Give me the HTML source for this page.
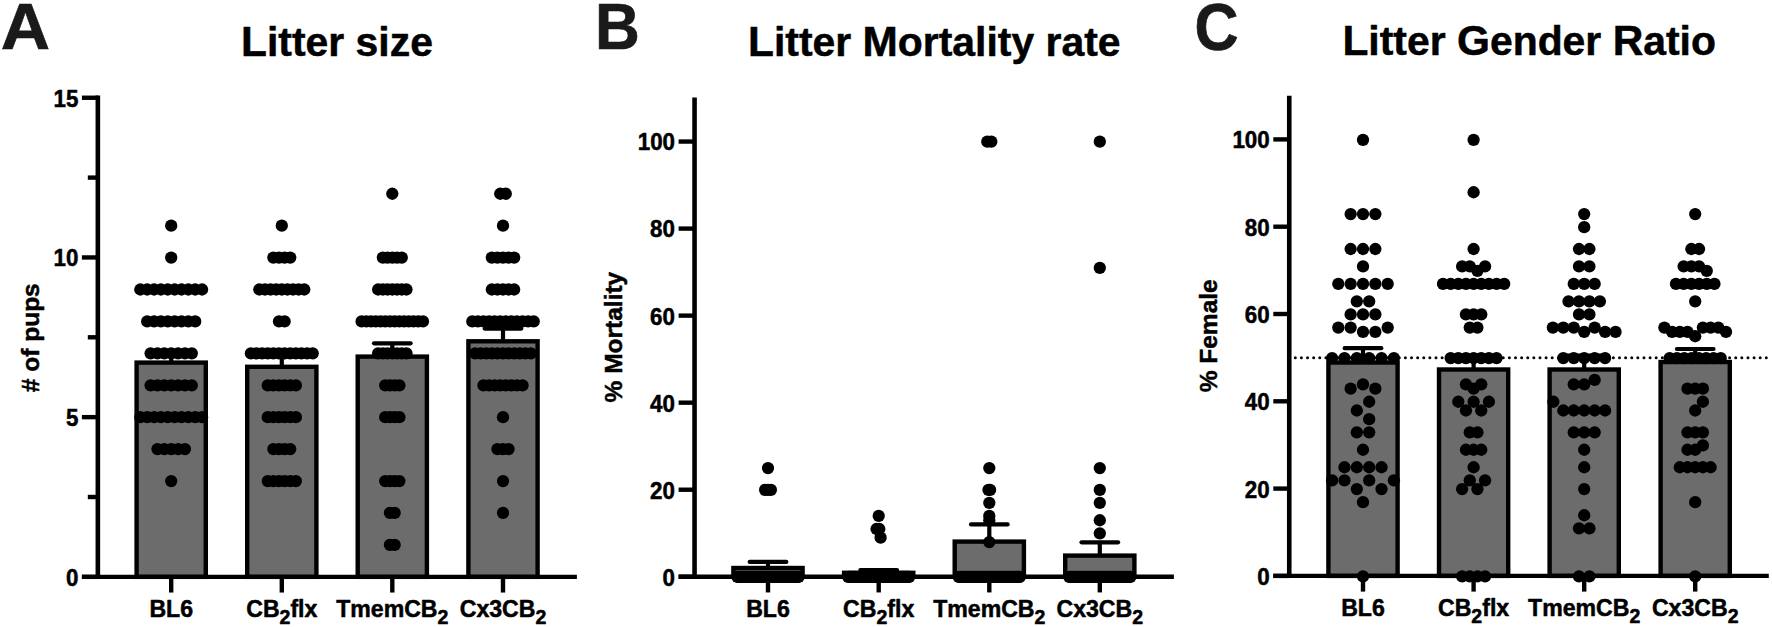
<!DOCTYPE html>
<html><head><meta charset="utf-8"><title>Litter figure</title>
<style>html,body{margin:0;padding:0;background:#fff}svg{display:block}</style></head>
<body>
<svg width="1772" height="627" viewBox="0 0 1772 627">
<rect width="1772" height="627" fill="#fff"/>
<rect x="136.60" y="362.60" width="69.20" height="214.25" fill="#6c6c6c" stroke="#000" stroke-width="4.4"/>
<line x1="171.20" y1="352.10" x2="171.20" y2="362.60" stroke="#000" stroke-width="4.2" />
<line x1="152.90" y1="352.10" x2="189.50" y2="352.10" stroke="#000" stroke-width="4.2" stroke-linecap="round"/>
<rect x="247.20" y="366.80" width="69.20" height="210.05" fill="#6c6c6c" stroke="#000" stroke-width="4.4"/>
<line x1="281.80" y1="355.30" x2="281.80" y2="366.80" stroke="#000" stroke-width="4.2" />
<line x1="263.50" y1="355.30" x2="300.10" y2="355.30" stroke="#000" stroke-width="4.2" stroke-linecap="round"/>
<rect x="357.70" y="356.60" width="69.20" height="220.25" fill="#6c6c6c" stroke="#000" stroke-width="4.4"/>
<line x1="392.30" y1="343.30" x2="392.30" y2="356.60" stroke="#000" stroke-width="4.2" />
<line x1="374.00" y1="343.30" x2="410.60" y2="343.30" stroke="#000" stroke-width="4.2" stroke-linecap="round"/>
<rect x="468.40" y="341.30" width="69.20" height="235.55" fill="#6c6c6c" stroke="#000" stroke-width="4.4"/>
<line x1="503.00" y1="328.60" x2="503.00" y2="341.30" stroke="#000" stroke-width="4.2" />
<line x1="484.70" y1="328.60" x2="521.30" y2="328.60" stroke="#000" stroke-width="4.2" stroke-linecap="round"/>
<line x1="97.85" y1="95.50" x2="97.85" y2="579.05" stroke="#000" stroke-width="4.6" />
<line x1="81.90" y1="576.85" x2="576.90" y2="576.85" stroke="#000" stroke-width="4.4" />
<line x1="81.90" y1="576.85" x2="98.00" y2="576.85" stroke="#000" stroke-width="4.4" />
<text transform="translate(78.40,585.75) scale(0.96,1)" font-size="23.3" text-anchor="end" fill="#000" font-family="Liberation Sans, Arial, Helvetica, sans-serif" font-weight="bold"  stroke="#000" stroke-width="0.5" stroke-linejoin="round">0</text>
<line x1="81.90" y1="417.15" x2="98.00" y2="417.15" stroke="#000" stroke-width="4.4" />
<text transform="translate(78.40,426.05) scale(0.96,1)" font-size="23.3" text-anchor="end" fill="#000" font-family="Liberation Sans, Arial, Helvetica, sans-serif" font-weight="bold"  stroke="#000" stroke-width="0.5" stroke-linejoin="round">5</text>
<line x1="81.90" y1="257.45" x2="98.00" y2="257.45" stroke="#000" stroke-width="4.4" />
<text transform="translate(78.40,266.35) scale(0.96,1)" font-size="23.3" text-anchor="end" fill="#000" font-family="Liberation Sans, Arial, Helvetica, sans-serif" font-weight="bold"  stroke="#000" stroke-width="0.5" stroke-linejoin="round">10</text>
<line x1="81.90" y1="97.75" x2="98.00" y2="97.75" stroke="#000" stroke-width="4.4" />
<text transform="translate(78.40,106.65) scale(0.96,1)" font-size="23.3" text-anchor="end" fill="#000" font-family="Liberation Sans, Arial, Helvetica, sans-serif" font-weight="bold"  stroke="#000" stroke-width="0.5" stroke-linejoin="round">15</text>
<line x1="87.80" y1="497.00" x2="98.00" y2="497.00" stroke="#000" stroke-width="4.4" />
<line x1="87.80" y1="337.30" x2="98.00" y2="337.30" stroke="#000" stroke-width="4.4" />
<line x1="87.80" y1="177.60" x2="98.00" y2="177.60" stroke="#000" stroke-width="4.4" />
<line x1="171.20" y1="576.85" x2="171.20" y2="592.55" stroke="#000" stroke-width="4.4" />
<line x1="281.80" y1="576.85" x2="281.80" y2="592.55" stroke="#000" stroke-width="4.4" />
<line x1="392.30" y1="576.85" x2="392.30" y2="592.55" stroke="#000" stroke-width="4.4" />
<line x1="503.00" y1="576.85" x2="503.00" y2="592.55" stroke="#000" stroke-width="4.4" />
<text x="171.20" y="616.90" font-size="23.1" text-anchor="middle" fill="#000" font-family="Liberation Sans, Arial, Helvetica, sans-serif" font-weight="bold"  stroke="#000" stroke-width="0.5" stroke-linejoin="round">BL6</text>
<text x="281.80" y="616.90" font-size="23.1" text-anchor="middle" fill="#000" font-family="Liberation Sans, Arial, Helvetica, sans-serif" font-weight="bold"  stroke="#000" stroke-width="0.5" stroke-linejoin="round">CB<tspan font-size="19.5" dy="7.3">2</tspan><tspan dy="-7.3">flx</tspan></text>
<text x="392.30" y="616.90" font-size="23.1" text-anchor="middle" fill="#000" font-family="Liberation Sans, Arial, Helvetica, sans-serif" font-weight="bold"  stroke="#000" stroke-width="0.5" stroke-linejoin="round">TmemCB<tspan font-size="19.5" dy="7.3">2</tspan></text>
<text x="503.00" y="616.90" font-size="23.1" text-anchor="middle" fill="#000" font-family="Liberation Sans, Arial, Helvetica, sans-serif" font-weight="bold"  stroke="#000" stroke-width="0.5" stroke-linejoin="round">Cx3CB<tspan font-size="19.5" dy="7.3">2</tspan></text>
<text x="337.00" y="56.30" font-size="40.9" text-anchor="middle" fill="#000" font-family="Liberation Sans, Arial, Helvetica, sans-serif" font-weight="bold"  stroke="#000" stroke-width="0.5" stroke-linejoin="round"><tspan font-size="42.4">L</tspan>itter size</text>
<text transform="translate(0.80,49.20) scale(1.04,1)" font-size="65.7" text-anchor="start" fill="#1a1a1a" font-family="Liberation Sans, Arial, Helvetica, sans-serif" font-weight="bold"  stroke="#1a1a1a" stroke-width="0.7" stroke-linejoin="round">A</text>
<text transform="translate(39.00,337.70) rotate(-90)" font-size="24.5" text-anchor="middle" fill="#000" stroke="#000" stroke-width="0.5" font-family="Liberation Sans, Arial, Helvetica, sans-serif" font-weight="bold"># of pups</text>
<g fill="#000">
<circle cx="171.20" cy="225.68" r="6.15"/>
<circle cx="171.20" cy="257.60" r="6.15"/>
<circle cx="140.33" cy="289.52" r="6.15"/>
<circle cx="147.19" cy="289.52" r="6.15"/>
<circle cx="154.05" cy="289.52" r="6.15"/>
<circle cx="160.91" cy="289.52" r="6.15"/>
<circle cx="167.77" cy="289.52" r="6.15"/>
<circle cx="174.63" cy="289.52" r="6.15"/>
<circle cx="181.49" cy="289.52" r="6.15"/>
<circle cx="188.35" cy="289.52" r="6.15"/>
<circle cx="195.21" cy="289.52" r="6.15"/>
<circle cx="202.07" cy="289.52" r="6.15"/>
<circle cx="147.19" cy="321.44" r="6.15"/>
<circle cx="154.05" cy="321.44" r="6.15"/>
<circle cx="160.91" cy="321.44" r="6.15"/>
<circle cx="167.77" cy="321.44" r="6.15"/>
<circle cx="174.63" cy="321.44" r="6.15"/>
<circle cx="181.49" cy="321.44" r="6.15"/>
<circle cx="188.35" cy="321.44" r="6.15"/>
<circle cx="195.21" cy="321.44" r="6.15"/>
<circle cx="150.62" cy="353.36" r="6.15"/>
<circle cx="157.48" cy="353.36" r="6.15"/>
<circle cx="164.34" cy="353.36" r="6.15"/>
<circle cx="171.20" cy="353.36" r="6.15"/>
<circle cx="178.06" cy="353.36" r="6.15"/>
<circle cx="184.92" cy="353.36" r="6.15"/>
<circle cx="191.78" cy="353.36" r="6.15"/>
<circle cx="150.62" cy="385.28" r="6.15"/>
<circle cx="157.48" cy="385.28" r="6.15"/>
<circle cx="164.34" cy="385.28" r="6.15"/>
<circle cx="171.20" cy="385.28" r="6.15"/>
<circle cx="178.06" cy="385.28" r="6.15"/>
<circle cx="184.92" cy="385.28" r="6.15"/>
<circle cx="191.78" cy="385.28" r="6.15"/>
<circle cx="140.33" cy="417.20" r="6.15"/>
<circle cx="147.19" cy="417.20" r="6.15"/>
<circle cx="154.05" cy="417.20" r="6.15"/>
<circle cx="160.91" cy="417.20" r="6.15"/>
<circle cx="167.77" cy="417.20" r="6.15"/>
<circle cx="174.63" cy="417.20" r="6.15"/>
<circle cx="181.49" cy="417.20" r="6.15"/>
<circle cx="188.35" cy="417.20" r="6.15"/>
<circle cx="195.21" cy="417.20" r="6.15"/>
<circle cx="202.07" cy="417.20" r="6.15"/>
<circle cx="157.48" cy="449.12" r="6.15"/>
<circle cx="164.34" cy="449.12" r="6.15"/>
<circle cx="171.20" cy="449.12" r="6.15"/>
<circle cx="178.06" cy="449.12" r="6.15"/>
<circle cx="184.92" cy="449.12" r="6.15"/>
<circle cx="171.20" cy="481.04" r="6.15"/>
<circle cx="281.80" cy="225.68" r="6.15"/>
<circle cx="273.37" cy="257.60" r="6.15"/>
<circle cx="278.99" cy="257.60" r="6.15"/>
<circle cx="284.61" cy="257.60" r="6.15"/>
<circle cx="290.23" cy="257.60" r="6.15"/>
<circle cx="259.32" cy="289.52" r="6.15"/>
<circle cx="264.94" cy="289.52" r="6.15"/>
<circle cx="270.56" cy="289.52" r="6.15"/>
<circle cx="276.18" cy="289.52" r="6.15"/>
<circle cx="281.80" cy="289.52" r="6.15"/>
<circle cx="287.42" cy="289.52" r="6.15"/>
<circle cx="293.04" cy="289.52" r="6.15"/>
<circle cx="298.66" cy="289.52" r="6.15"/>
<circle cx="304.28" cy="289.52" r="6.15"/>
<circle cx="278.99" cy="321.44" r="6.15"/>
<circle cx="284.61" cy="321.44" r="6.15"/>
<circle cx="250.89" cy="353.36" r="6.15"/>
<circle cx="256.51" cy="353.36" r="6.15"/>
<circle cx="262.13" cy="353.36" r="6.15"/>
<circle cx="267.75" cy="353.36" r="6.15"/>
<circle cx="273.37" cy="353.36" r="6.15"/>
<circle cx="278.99" cy="353.36" r="6.15"/>
<circle cx="284.61" cy="353.36" r="6.15"/>
<circle cx="290.23" cy="353.36" r="6.15"/>
<circle cx="295.85" cy="353.36" r="6.15"/>
<circle cx="301.47" cy="353.36" r="6.15"/>
<circle cx="307.09" cy="353.36" r="6.15"/>
<circle cx="312.71" cy="353.36" r="6.15"/>
<circle cx="267.75" cy="385.28" r="6.15"/>
<circle cx="273.37" cy="385.28" r="6.15"/>
<circle cx="278.99" cy="385.28" r="6.15"/>
<circle cx="284.61" cy="385.28" r="6.15"/>
<circle cx="290.23" cy="385.28" r="6.15"/>
<circle cx="295.85" cy="385.28" r="6.15"/>
<circle cx="267.75" cy="417.20" r="6.15"/>
<circle cx="273.37" cy="417.20" r="6.15"/>
<circle cx="278.99" cy="417.20" r="6.15"/>
<circle cx="284.61" cy="417.20" r="6.15"/>
<circle cx="290.23" cy="417.20" r="6.15"/>
<circle cx="295.85" cy="417.20" r="6.15"/>
<circle cx="273.37" cy="449.12" r="6.15"/>
<circle cx="278.99" cy="449.12" r="6.15"/>
<circle cx="284.61" cy="449.12" r="6.15"/>
<circle cx="290.23" cy="449.12" r="6.15"/>
<circle cx="267.75" cy="481.04" r="6.15"/>
<circle cx="273.37" cy="481.04" r="6.15"/>
<circle cx="278.99" cy="481.04" r="6.15"/>
<circle cx="284.61" cy="481.04" r="6.15"/>
<circle cx="290.23" cy="481.04" r="6.15"/>
<circle cx="295.85" cy="481.04" r="6.15"/>
<circle cx="392.30" cy="193.76" r="6.15"/>
<circle cx="382.86" cy="257.60" r="6.15"/>
<circle cx="387.58" cy="257.60" r="6.15"/>
<circle cx="392.30" cy="257.60" r="6.15"/>
<circle cx="397.02" cy="257.60" r="6.15"/>
<circle cx="401.74" cy="257.60" r="6.15"/>
<circle cx="378.14" cy="289.52" r="6.15"/>
<circle cx="382.86" cy="289.52" r="6.15"/>
<circle cx="387.58" cy="289.52" r="6.15"/>
<circle cx="392.30" cy="289.52" r="6.15"/>
<circle cx="397.02" cy="289.52" r="6.15"/>
<circle cx="401.74" cy="289.52" r="6.15"/>
<circle cx="406.46" cy="289.52" r="6.15"/>
<circle cx="361.62" cy="321.44" r="6.15"/>
<circle cx="366.34" cy="321.44" r="6.15"/>
<circle cx="371.06" cy="321.44" r="6.15"/>
<circle cx="375.78" cy="321.44" r="6.15"/>
<circle cx="380.50" cy="321.44" r="6.15"/>
<circle cx="385.22" cy="321.44" r="6.15"/>
<circle cx="389.94" cy="321.44" r="6.15"/>
<circle cx="394.66" cy="321.44" r="6.15"/>
<circle cx="399.38" cy="321.44" r="6.15"/>
<circle cx="404.10" cy="321.44" r="6.15"/>
<circle cx="408.82" cy="321.44" r="6.15"/>
<circle cx="413.54" cy="321.44" r="6.15"/>
<circle cx="418.26" cy="321.44" r="6.15"/>
<circle cx="422.98" cy="321.44" r="6.15"/>
<circle cx="378.14" cy="353.36" r="6.15"/>
<circle cx="382.86" cy="353.36" r="6.15"/>
<circle cx="387.58" cy="353.36" r="6.15"/>
<circle cx="392.30" cy="353.36" r="6.15"/>
<circle cx="397.02" cy="353.36" r="6.15"/>
<circle cx="401.74" cy="353.36" r="6.15"/>
<circle cx="406.46" cy="353.36" r="6.15"/>
<circle cx="385.22" cy="385.28" r="6.15"/>
<circle cx="389.94" cy="385.28" r="6.15"/>
<circle cx="394.66" cy="385.28" r="6.15"/>
<circle cx="399.38" cy="385.28" r="6.15"/>
<circle cx="385.22" cy="417.20" r="6.15"/>
<circle cx="389.94" cy="417.20" r="6.15"/>
<circle cx="394.66" cy="417.20" r="6.15"/>
<circle cx="399.38" cy="417.20" r="6.15"/>
<circle cx="385.22" cy="481.04" r="6.15"/>
<circle cx="389.94" cy="481.04" r="6.15"/>
<circle cx="394.66" cy="481.04" r="6.15"/>
<circle cx="399.38" cy="481.04" r="6.15"/>
<circle cx="389.94" cy="512.96" r="6.15"/>
<circle cx="394.66" cy="512.96" r="6.15"/>
<circle cx="389.94" cy="544.88" r="6.15"/>
<circle cx="394.66" cy="544.88" r="6.15"/>
<circle cx="500.21" cy="193.76" r="6.15"/>
<circle cx="505.79" cy="193.76" r="6.15"/>
<circle cx="503.00" cy="225.68" r="6.15"/>
<circle cx="491.84" cy="257.60" r="6.15"/>
<circle cx="497.42" cy="257.60" r="6.15"/>
<circle cx="503.00" cy="257.60" r="6.15"/>
<circle cx="508.58" cy="257.60" r="6.15"/>
<circle cx="514.16" cy="257.60" r="6.15"/>
<circle cx="491.84" cy="289.52" r="6.15"/>
<circle cx="497.42" cy="289.52" r="6.15"/>
<circle cx="503.00" cy="289.52" r="6.15"/>
<circle cx="508.58" cy="289.52" r="6.15"/>
<circle cx="514.16" cy="289.52" r="6.15"/>
<circle cx="472.31" cy="321.44" r="6.15"/>
<circle cx="477.89" cy="321.44" r="6.15"/>
<circle cx="483.47" cy="321.44" r="6.15"/>
<circle cx="489.05" cy="321.44" r="6.15"/>
<circle cx="494.63" cy="321.44" r="6.15"/>
<circle cx="500.21" cy="321.44" r="6.15"/>
<circle cx="505.79" cy="321.44" r="6.15"/>
<circle cx="511.37" cy="321.44" r="6.15"/>
<circle cx="516.95" cy="321.44" r="6.15"/>
<circle cx="522.53" cy="321.44" r="6.15"/>
<circle cx="528.11" cy="321.44" r="6.15"/>
<circle cx="533.69" cy="321.44" r="6.15"/>
<circle cx="475.10" cy="353.36" r="6.15"/>
<circle cx="480.68" cy="353.36" r="6.15"/>
<circle cx="486.26" cy="353.36" r="6.15"/>
<circle cx="491.84" cy="353.36" r="6.15"/>
<circle cx="497.42" cy="353.36" r="6.15"/>
<circle cx="503.00" cy="353.36" r="6.15"/>
<circle cx="508.58" cy="353.36" r="6.15"/>
<circle cx="514.16" cy="353.36" r="6.15"/>
<circle cx="519.74" cy="353.36" r="6.15"/>
<circle cx="525.32" cy="353.36" r="6.15"/>
<circle cx="530.90" cy="353.36" r="6.15"/>
<circle cx="483.47" cy="385.28" r="6.15"/>
<circle cx="489.05" cy="385.28" r="6.15"/>
<circle cx="494.63" cy="385.28" r="6.15"/>
<circle cx="500.21" cy="385.28" r="6.15"/>
<circle cx="505.79" cy="385.28" r="6.15"/>
<circle cx="511.37" cy="385.28" r="6.15"/>
<circle cx="516.95" cy="385.28" r="6.15"/>
<circle cx="522.53" cy="385.28" r="6.15"/>
<circle cx="503.00" cy="417.20" r="6.15"/>
<circle cx="497.42" cy="449.12" r="6.15"/>
<circle cx="503.00" cy="449.12" r="6.15"/>
<circle cx="508.58" cy="449.12" r="6.15"/>
<circle cx="503.00" cy="481.04" r="6.15"/>
<circle cx="503.00" cy="512.96" r="6.15"/>
</g>
<rect x="733.40" y="568.00" width="69.20" height="8.75" fill="#6c6c6c" stroke="#000" stroke-width="4.4"/>
<line x1="768.00" y1="561.90" x2="768.00" y2="568.00" stroke="#000" stroke-width="4.2" />
<line x1="749.70" y1="561.90" x2="786.30" y2="561.90" stroke="#000" stroke-width="4.2" stroke-linecap="round"/>
<rect x="844.10" y="572.80" width="69.20" height="3.95" fill="#6c6c6c" stroke="#000" stroke-width="4.4"/>
<line x1="878.70" y1="570.00" x2="878.70" y2="572.80" stroke="#000" stroke-width="4.2" />
<line x1="860.40" y1="570.00" x2="897.00" y2="570.00" stroke="#000" stroke-width="4.2" stroke-linecap="round"/>
<rect x="954.70" y="541.60" width="69.20" height="35.15" fill="#6c6c6c" stroke="#000" stroke-width="4.4"/>
<line x1="989.30" y1="524.40" x2="989.30" y2="541.60" stroke="#000" stroke-width="4.2" />
<line x1="971.00" y1="524.40" x2="1007.60" y2="524.40" stroke="#000" stroke-width="4.2" stroke-linecap="round"/>
<rect x="1065.20" y="555.60" width="69.20" height="21.15" fill="#6c6c6c" stroke="#000" stroke-width="4.4"/>
<line x1="1099.80" y1="542.30" x2="1099.80" y2="555.60" stroke="#000" stroke-width="4.2" />
<line x1="1081.50" y1="542.30" x2="1118.10" y2="542.30" stroke="#000" stroke-width="4.2" stroke-linecap="round"/>
<line x1="694.55" y1="97.60" x2="694.55" y2="578.95" stroke="#000" stroke-width="4.6" />
<line x1="678.60" y1="576.75" x2="1173.90" y2="576.75" stroke="#000" stroke-width="4.4" />
<line x1="678.60" y1="576.75" x2="694.70" y2="576.75" stroke="#000" stroke-width="4.4" />
<text transform="translate(675.00,585.65) scale(0.96,1)" font-size="23.3" text-anchor="end" fill="#000" font-family="Liberation Sans, Arial, Helvetica, sans-serif" font-weight="bold"  stroke="#000" stroke-width="0.5" stroke-linejoin="round">0</text>
<line x1="678.60" y1="489.71" x2="694.70" y2="489.71" stroke="#000" stroke-width="4.4" />
<text transform="translate(675.00,498.61) scale(0.96,1)" font-size="23.3" text-anchor="end" fill="#000" font-family="Liberation Sans, Arial, Helvetica, sans-serif" font-weight="bold"  stroke="#000" stroke-width="0.5" stroke-linejoin="round">20</text>
<line x1="678.60" y1="402.67" x2="694.70" y2="402.67" stroke="#000" stroke-width="4.4" />
<text transform="translate(675.00,411.57) scale(0.96,1)" font-size="23.3" text-anchor="end" fill="#000" font-family="Liberation Sans, Arial, Helvetica, sans-serif" font-weight="bold"  stroke="#000" stroke-width="0.5" stroke-linejoin="round">40</text>
<line x1="678.60" y1="315.63" x2="694.70" y2="315.63" stroke="#000" stroke-width="4.4" />
<text transform="translate(675.00,324.53) scale(0.96,1)" font-size="23.3" text-anchor="end" fill="#000" font-family="Liberation Sans, Arial, Helvetica, sans-serif" font-weight="bold"  stroke="#000" stroke-width="0.5" stroke-linejoin="round">60</text>
<line x1="678.60" y1="228.59" x2="694.70" y2="228.59" stroke="#000" stroke-width="4.4" />
<text transform="translate(675.00,237.49) scale(0.96,1)" font-size="23.3" text-anchor="end" fill="#000" font-family="Liberation Sans, Arial, Helvetica, sans-serif" font-weight="bold"  stroke="#000" stroke-width="0.5" stroke-linejoin="round">80</text>
<line x1="678.60" y1="141.55" x2="694.70" y2="141.55" stroke="#000" stroke-width="4.4" />
<text transform="translate(675.00,150.45) scale(0.96,1)" font-size="23.3" text-anchor="end" fill="#000" font-family="Liberation Sans, Arial, Helvetica, sans-serif" font-weight="bold"  stroke="#000" stroke-width="0.5" stroke-linejoin="round">100</text>
<line x1="768.00" y1="576.75" x2="768.00" y2="592.45" stroke="#000" stroke-width="4.4" />
<line x1="878.70" y1="576.75" x2="878.70" y2="592.45" stroke="#000" stroke-width="4.4" />
<line x1="989.30" y1="576.75" x2="989.30" y2="592.45" stroke="#000" stroke-width="4.4" />
<line x1="1099.80" y1="576.75" x2="1099.80" y2="592.45" stroke="#000" stroke-width="4.4" />
<text x="768.00" y="616.80" font-size="23.1" text-anchor="middle" fill="#000" font-family="Liberation Sans, Arial, Helvetica, sans-serif" font-weight="bold"  stroke="#000" stroke-width="0.5" stroke-linejoin="round">BL6</text>
<text x="878.70" y="616.80" font-size="23.1" text-anchor="middle" fill="#000" font-family="Liberation Sans, Arial, Helvetica, sans-serif" font-weight="bold"  stroke="#000" stroke-width="0.5" stroke-linejoin="round">CB<tspan font-size="19.5" dy="7.3">2</tspan><tspan dy="-7.3">flx</tspan></text>
<text x="989.30" y="616.80" font-size="23.1" text-anchor="middle" fill="#000" font-family="Liberation Sans, Arial, Helvetica, sans-serif" font-weight="bold"  stroke="#000" stroke-width="0.5" stroke-linejoin="round">TmemCB<tspan font-size="19.5" dy="7.3">2</tspan></text>
<text x="1099.80" y="616.80" font-size="23.1" text-anchor="middle" fill="#000" font-family="Liberation Sans, Arial, Helvetica, sans-serif" font-weight="bold"  stroke="#000" stroke-width="0.5" stroke-linejoin="round">Cx3CB<tspan font-size="19.5" dy="7.3">2</tspan></text>
<text x="934.30" y="55.80" font-size="40.9" text-anchor="middle" fill="#000" font-family="Liberation Sans, Arial, Helvetica, sans-serif" font-weight="bold"  stroke="#000" stroke-width="0.5" stroke-linejoin="round"><tspan font-size="42.4">L</tspan>itter <tspan font-size="42.4">M</tspan>ortality rate</text>
<text transform="translate(595.10,49.20) scale(0.945,1)" font-size="65.7" text-anchor="start" fill="#1a1a1a" font-family="Liberation Sans, Arial, Helvetica, sans-serif" font-weight="bold"  stroke="#1a1a1a" stroke-width="0.7" stroke-linejoin="round">B</text>
<text transform="translate(622.00,337.10) rotate(-90)" font-size="24.5" text-anchor="middle" fill="#000" stroke="#000" stroke-width="0.5" font-family="Liberation Sans, Arial, Helvetica, sans-serif" font-weight="bold">% Mortality</text>
<g fill="#000">
<circle cx="737.40" cy="576.85" r="6.15"/>
<circle cx="738.93" cy="576.85" r="6.15"/>
<circle cx="740.46" cy="576.85" r="6.15"/>
<circle cx="741.99" cy="576.85" r="6.15"/>
<circle cx="743.52" cy="576.85" r="6.15"/>
<circle cx="745.05" cy="576.85" r="6.15"/>
<circle cx="746.58" cy="576.85" r="6.15"/>
<circle cx="748.11" cy="576.85" r="6.15"/>
<circle cx="749.64" cy="576.85" r="6.15"/>
<circle cx="751.17" cy="576.85" r="6.15"/>
<circle cx="752.70" cy="576.85" r="6.15"/>
<circle cx="754.23" cy="576.85" r="6.15"/>
<circle cx="755.76" cy="576.85" r="6.15"/>
<circle cx="757.29" cy="576.85" r="6.15"/>
<circle cx="758.82" cy="576.85" r="6.15"/>
<circle cx="760.35" cy="576.85" r="6.15"/>
<circle cx="761.88" cy="576.85" r="6.15"/>
<circle cx="763.41" cy="576.85" r="6.15"/>
<circle cx="764.94" cy="576.85" r="6.15"/>
<circle cx="766.47" cy="576.85" r="6.15"/>
<circle cx="768.00" cy="576.85" r="6.15"/>
<circle cx="769.53" cy="576.85" r="6.15"/>
<circle cx="771.06" cy="576.85" r="6.15"/>
<circle cx="772.59" cy="576.85" r="6.15"/>
<circle cx="774.12" cy="576.85" r="6.15"/>
<circle cx="775.65" cy="576.85" r="6.15"/>
<circle cx="777.18" cy="576.85" r="6.15"/>
<circle cx="778.71" cy="576.85" r="6.15"/>
<circle cx="780.24" cy="576.85" r="6.15"/>
<circle cx="781.77" cy="576.85" r="6.15"/>
<circle cx="783.30" cy="576.85" r="6.15"/>
<circle cx="784.83" cy="576.85" r="6.15"/>
<circle cx="786.36" cy="576.85" r="6.15"/>
<circle cx="787.89" cy="576.85" r="6.15"/>
<circle cx="789.42" cy="576.85" r="6.15"/>
<circle cx="790.95" cy="576.85" r="6.15"/>
<circle cx="792.48" cy="576.85" r="6.15"/>
<circle cx="794.01" cy="576.85" r="6.15"/>
<circle cx="795.54" cy="576.85" r="6.15"/>
<circle cx="797.07" cy="576.85" r="6.15"/>
<circle cx="798.60" cy="576.85" r="6.15"/>
<circle cx="848.20" cy="576.85" r="6.15"/>
<circle cx="849.73" cy="576.85" r="6.15"/>
<circle cx="851.25" cy="576.85" r="6.15"/>
<circle cx="852.78" cy="576.85" r="6.15"/>
<circle cx="854.30" cy="576.85" r="6.15"/>
<circle cx="855.83" cy="576.85" r="6.15"/>
<circle cx="857.35" cy="576.85" r="6.15"/>
<circle cx="858.88" cy="576.85" r="6.15"/>
<circle cx="860.40" cy="576.85" r="6.15"/>
<circle cx="861.93" cy="576.85" r="6.15"/>
<circle cx="863.45" cy="576.85" r="6.15"/>
<circle cx="864.98" cy="576.85" r="6.15"/>
<circle cx="866.50" cy="576.85" r="6.15"/>
<circle cx="868.03" cy="576.85" r="6.15"/>
<circle cx="869.55" cy="576.85" r="6.15"/>
<circle cx="871.08" cy="576.85" r="6.15"/>
<circle cx="872.60" cy="576.85" r="6.15"/>
<circle cx="874.12" cy="576.85" r="6.15"/>
<circle cx="875.65" cy="576.85" r="6.15"/>
<circle cx="877.18" cy="576.85" r="6.15"/>
<circle cx="878.70" cy="576.85" r="6.15"/>
<circle cx="880.23" cy="576.85" r="6.15"/>
<circle cx="881.75" cy="576.85" r="6.15"/>
<circle cx="883.28" cy="576.85" r="6.15"/>
<circle cx="884.80" cy="576.85" r="6.15"/>
<circle cx="886.33" cy="576.85" r="6.15"/>
<circle cx="887.85" cy="576.85" r="6.15"/>
<circle cx="889.38" cy="576.85" r="6.15"/>
<circle cx="890.90" cy="576.85" r="6.15"/>
<circle cx="892.43" cy="576.85" r="6.15"/>
<circle cx="893.95" cy="576.85" r="6.15"/>
<circle cx="895.48" cy="576.85" r="6.15"/>
<circle cx="897.00" cy="576.85" r="6.15"/>
<circle cx="898.53" cy="576.85" r="6.15"/>
<circle cx="900.05" cy="576.85" r="6.15"/>
<circle cx="901.58" cy="576.85" r="6.15"/>
<circle cx="903.10" cy="576.85" r="6.15"/>
<circle cx="904.62" cy="576.85" r="6.15"/>
<circle cx="906.15" cy="576.85" r="6.15"/>
<circle cx="907.68" cy="576.85" r="6.15"/>
<circle cx="909.20" cy="576.85" r="6.15"/>
<circle cx="958.70" cy="576.85" r="6.15"/>
<circle cx="960.23" cy="576.85" r="6.15"/>
<circle cx="961.76" cy="576.85" r="6.15"/>
<circle cx="963.29" cy="576.85" r="6.15"/>
<circle cx="964.82" cy="576.85" r="6.15"/>
<circle cx="966.35" cy="576.85" r="6.15"/>
<circle cx="967.88" cy="576.85" r="6.15"/>
<circle cx="969.41" cy="576.85" r="6.15"/>
<circle cx="970.94" cy="576.85" r="6.15"/>
<circle cx="972.47" cy="576.85" r="6.15"/>
<circle cx="974.00" cy="576.85" r="6.15"/>
<circle cx="975.53" cy="576.85" r="6.15"/>
<circle cx="977.06" cy="576.85" r="6.15"/>
<circle cx="978.59" cy="576.85" r="6.15"/>
<circle cx="980.12" cy="576.85" r="6.15"/>
<circle cx="981.65" cy="576.85" r="6.15"/>
<circle cx="983.18" cy="576.85" r="6.15"/>
<circle cx="984.71" cy="576.85" r="6.15"/>
<circle cx="986.24" cy="576.85" r="6.15"/>
<circle cx="987.77" cy="576.85" r="6.15"/>
<circle cx="989.30" cy="576.85" r="6.15"/>
<circle cx="990.83" cy="576.85" r="6.15"/>
<circle cx="992.36" cy="576.85" r="6.15"/>
<circle cx="993.89" cy="576.85" r="6.15"/>
<circle cx="995.42" cy="576.85" r="6.15"/>
<circle cx="996.95" cy="576.85" r="6.15"/>
<circle cx="998.48" cy="576.85" r="6.15"/>
<circle cx="1000.01" cy="576.85" r="6.15"/>
<circle cx="1001.54" cy="576.85" r="6.15"/>
<circle cx="1003.07" cy="576.85" r="6.15"/>
<circle cx="1004.60" cy="576.85" r="6.15"/>
<circle cx="1006.13" cy="576.85" r="6.15"/>
<circle cx="1007.66" cy="576.85" r="6.15"/>
<circle cx="1009.19" cy="576.85" r="6.15"/>
<circle cx="1010.72" cy="576.85" r="6.15"/>
<circle cx="1012.25" cy="576.85" r="6.15"/>
<circle cx="1013.78" cy="576.85" r="6.15"/>
<circle cx="1015.31" cy="576.85" r="6.15"/>
<circle cx="1016.84" cy="576.85" r="6.15"/>
<circle cx="1018.37" cy="576.85" r="6.15"/>
<circle cx="1019.90" cy="576.85" r="6.15"/>
<circle cx="1069.20" cy="576.85" r="6.15"/>
<circle cx="1070.73" cy="576.85" r="6.15"/>
<circle cx="1072.26" cy="576.85" r="6.15"/>
<circle cx="1073.79" cy="576.85" r="6.15"/>
<circle cx="1075.32" cy="576.85" r="6.15"/>
<circle cx="1076.85" cy="576.85" r="6.15"/>
<circle cx="1078.38" cy="576.85" r="6.15"/>
<circle cx="1079.91" cy="576.85" r="6.15"/>
<circle cx="1081.44" cy="576.85" r="6.15"/>
<circle cx="1082.97" cy="576.85" r="6.15"/>
<circle cx="1084.50" cy="576.85" r="6.15"/>
<circle cx="1086.03" cy="576.85" r="6.15"/>
<circle cx="1087.56" cy="576.85" r="6.15"/>
<circle cx="1089.09" cy="576.85" r="6.15"/>
<circle cx="1090.62" cy="576.85" r="6.15"/>
<circle cx="1092.15" cy="576.85" r="6.15"/>
<circle cx="1093.68" cy="576.85" r="6.15"/>
<circle cx="1095.21" cy="576.85" r="6.15"/>
<circle cx="1096.74" cy="576.85" r="6.15"/>
<circle cx="1098.27" cy="576.85" r="6.15"/>
<circle cx="1099.80" cy="576.85" r="6.15"/>
<circle cx="1101.33" cy="576.85" r="6.15"/>
<circle cx="1102.86" cy="576.85" r="6.15"/>
<circle cx="1104.39" cy="576.85" r="6.15"/>
<circle cx="1105.92" cy="576.85" r="6.15"/>
<circle cx="1107.45" cy="576.85" r="6.15"/>
<circle cx="1108.98" cy="576.85" r="6.15"/>
<circle cx="1110.51" cy="576.85" r="6.15"/>
<circle cx="1112.04" cy="576.85" r="6.15"/>
<circle cx="1113.57" cy="576.85" r="6.15"/>
<circle cx="1115.10" cy="576.85" r="6.15"/>
<circle cx="1116.63" cy="576.85" r="6.15"/>
<circle cx="1118.16" cy="576.85" r="6.15"/>
<circle cx="1119.69" cy="576.85" r="6.15"/>
<circle cx="1121.22" cy="576.85" r="6.15"/>
<circle cx="1122.75" cy="576.85" r="6.15"/>
<circle cx="1124.28" cy="576.85" r="6.15"/>
<circle cx="1125.81" cy="576.85" r="6.15"/>
<circle cx="1127.34" cy="576.85" r="6.15"/>
<circle cx="1128.87" cy="576.85" r="6.15"/>
<circle cx="1130.40" cy="576.85" r="6.15"/>
<circle cx="768.00" cy="468.05" r="6.15"/>
<circle cx="765.10" cy="489.81" r="6.15"/>
<circle cx="768.00" cy="489.81" r="6.15"/>
<circle cx="770.90" cy="489.81" r="6.15"/>
<circle cx="878.70" cy="515.92" r="6.15"/>
<circle cx="876.50" cy="528.98" r="6.15"/>
<circle cx="879.30" cy="528.98" r="6.15"/>
<circle cx="880.60" cy="537.68" r="6.15"/>
<circle cx="987.30" cy="141.65" r="6.15"/>
<circle cx="991.30" cy="141.65" r="6.15"/>
<circle cx="989.30" cy="468.05" r="6.15"/>
<circle cx="988.50" cy="489.81" r="6.15"/>
<circle cx="990.10" cy="489.81" r="6.15"/>
<circle cx="989.30" cy="502.87" r="6.15"/>
<circle cx="989.30" cy="515.92" r="6.15"/>
<circle cx="989.30" cy="520.27" r="6.15"/>
<circle cx="989.30" cy="542.03" r="6.15"/>
<circle cx="1099.80" cy="141.65" r="6.15"/>
<circle cx="1099.80" cy="267.86" r="6.15"/>
<circle cx="1099.80" cy="468.05" r="6.15"/>
<circle cx="1099.80" cy="489.81" r="6.15"/>
<circle cx="1099.80" cy="502.87" r="6.15"/>
<circle cx="1099.80" cy="520.27" r="6.15"/>
<circle cx="1099.80" cy="533.33" r="6.15"/>
</g>
<rect x="1328.40" y="362.50" width="69.20" height="213.40" fill="#6c6c6c" stroke="#000" stroke-width="4.4"/>
<line x1="1363.00" y1="348.20" x2="1363.00" y2="362.50" stroke="#000" stroke-width="4.2" />
<line x1="1344.70" y1="348.20" x2="1381.30" y2="348.20" stroke="#000" stroke-width="4.2" stroke-linecap="round"/>
<rect x="1439.00" y="369.50" width="69.20" height="206.40" fill="#6c6c6c" stroke="#000" stroke-width="4.4"/>
<line x1="1473.60" y1="355.50" x2="1473.60" y2="369.50" stroke="#000" stroke-width="4.2" />
<line x1="1455.30" y1="355.50" x2="1491.90" y2="355.50" stroke="#000" stroke-width="4.2" stroke-linecap="round"/>
<rect x="1549.60" y="369.50" width="69.20" height="206.40" fill="#6c6c6c" stroke="#000" stroke-width="4.4"/>
<line x1="1584.20" y1="355.50" x2="1584.20" y2="369.50" stroke="#000" stroke-width="4.2" />
<line x1="1565.90" y1="355.50" x2="1602.50" y2="355.50" stroke="#000" stroke-width="4.2" stroke-linecap="round"/>
<rect x="1660.60" y="362.00" width="69.20" height="213.90" fill="#6c6c6c" stroke="#000" stroke-width="4.4"/>
<line x1="1695.20" y1="349.00" x2="1695.20" y2="362.00" stroke="#000" stroke-width="4.2" />
<line x1="1676.90" y1="349.00" x2="1713.50" y2="349.00" stroke="#000" stroke-width="4.2" stroke-linecap="round"/>
<line x1="1289.25" y1="95.70" x2="1289.25" y2="578.10" stroke="#000" stroke-width="4.6" />
<line x1="1273.30" y1="575.90" x2="1768.80" y2="575.90" stroke="#000" stroke-width="4.4" />
<line x1="1273.30" y1="575.90" x2="1289.40" y2="575.90" stroke="#000" stroke-width="4.4" />
<text transform="translate(1269.70,584.80) scale(0.96,1)" font-size="23.3" text-anchor="end" fill="#000" font-family="Liberation Sans, Arial, Helvetica, sans-serif" font-weight="bold"  stroke="#000" stroke-width="0.5" stroke-linejoin="round">0</text>
<line x1="1273.30" y1="488.60" x2="1289.40" y2="488.60" stroke="#000" stroke-width="4.4" />
<text transform="translate(1269.70,497.50) scale(0.96,1)" font-size="23.3" text-anchor="end" fill="#000" font-family="Liberation Sans, Arial, Helvetica, sans-serif" font-weight="bold"  stroke="#000" stroke-width="0.5" stroke-linejoin="round">20</text>
<line x1="1273.30" y1="401.30" x2="1289.40" y2="401.30" stroke="#000" stroke-width="4.4" />
<text transform="translate(1269.70,410.20) scale(0.96,1)" font-size="23.3" text-anchor="end" fill="#000" font-family="Liberation Sans, Arial, Helvetica, sans-serif" font-weight="bold"  stroke="#000" stroke-width="0.5" stroke-linejoin="round">40</text>
<line x1="1273.30" y1="314.00" x2="1289.40" y2="314.00" stroke="#000" stroke-width="4.4" />
<text transform="translate(1269.70,322.90) scale(0.96,1)" font-size="23.3" text-anchor="end" fill="#000" font-family="Liberation Sans, Arial, Helvetica, sans-serif" font-weight="bold"  stroke="#000" stroke-width="0.5" stroke-linejoin="round">60</text>
<line x1="1273.30" y1="226.70" x2="1289.40" y2="226.70" stroke="#000" stroke-width="4.4" />
<text transform="translate(1269.70,235.60) scale(0.96,1)" font-size="23.3" text-anchor="end" fill="#000" font-family="Liberation Sans, Arial, Helvetica, sans-serif" font-weight="bold"  stroke="#000" stroke-width="0.5" stroke-linejoin="round">80</text>
<line x1="1273.30" y1="139.40" x2="1289.40" y2="139.40" stroke="#000" stroke-width="4.4" />
<text transform="translate(1269.70,148.30) scale(0.96,1)" font-size="23.3" text-anchor="end" fill="#000" font-family="Liberation Sans, Arial, Helvetica, sans-serif" font-weight="bold"  stroke="#000" stroke-width="0.5" stroke-linejoin="round">100</text>
<line x1="1363.00" y1="575.90" x2="1363.00" y2="591.60" stroke="#000" stroke-width="4.4" />
<line x1="1473.60" y1="575.90" x2="1473.60" y2="591.60" stroke="#000" stroke-width="4.4" />
<line x1="1584.20" y1="575.90" x2="1584.20" y2="591.60" stroke="#000" stroke-width="4.4" />
<line x1="1695.20" y1="575.90" x2="1695.20" y2="591.60" stroke="#000" stroke-width="4.4" />
<text x="1363.00" y="616.00" font-size="23.1" text-anchor="middle" fill="#000" font-family="Liberation Sans, Arial, Helvetica, sans-serif" font-weight="bold"  stroke="#000" stroke-width="0.5" stroke-linejoin="round">BL6</text>
<text x="1473.60" y="616.00" font-size="23.1" text-anchor="middle" fill="#000" font-family="Liberation Sans, Arial, Helvetica, sans-serif" font-weight="bold"  stroke="#000" stroke-width="0.5" stroke-linejoin="round">CB<tspan font-size="19.5" dy="7.3">2</tspan><tspan dy="-7.3">flx</tspan></text>
<text x="1584.20" y="616.00" font-size="23.1" text-anchor="middle" fill="#000" font-family="Liberation Sans, Arial, Helvetica, sans-serif" font-weight="bold"  stroke="#000" stroke-width="0.5" stroke-linejoin="round">TmemCB<tspan font-size="19.5" dy="7.3">2</tspan></text>
<text x="1695.20" y="616.00" font-size="23.1" text-anchor="middle" fill="#000" font-family="Liberation Sans, Arial, Helvetica, sans-serif" font-weight="bold"  stroke="#000" stroke-width="0.5" stroke-linejoin="round">Cx3CB<tspan font-size="19.5" dy="7.3">2</tspan></text>
<text x="1529.20" y="55.10" font-size="40.9" text-anchor="middle" fill="#000" font-family="Liberation Sans, Arial, Helvetica, sans-serif" font-weight="bold"  stroke="#000" stroke-width="0.5" stroke-linejoin="round"><tspan font-size="42.4">L</tspan>itter <tspan font-size="42.4">G</tspan>ender <tspan font-size="42.4">R</tspan>atio</text>
<text transform="translate(1194.60,49.80) scale(0.91,1)" font-size="67" text-anchor="start" fill="#1a1a1a" font-family="Liberation Sans, Arial, Helvetica, sans-serif" font-weight="bold"  stroke="#1a1a1a" stroke-width="0.7" stroke-linejoin="round">C</text>
<text transform="translate(1217.10,335.80) rotate(-90)" font-size="24.5" text-anchor="middle" fill="#000" stroke="#000" stroke-width="0.5" font-family="Liberation Sans, Arial, Helvetica, sans-serif" font-weight="bold">% Female</text>
<line x1="1295.3" y1="357.8" x2="1768" y2="357.8" stroke="#000" stroke-width="3" stroke-linecap="round" stroke-dasharray="0 6.117"/>
<g fill="#000">
<circle cx="1363.00" cy="139.85" r="6.15"/>
<circle cx="1350.65" cy="214.06" r="6.15"/>
<circle cx="1363.00" cy="214.06" r="6.15"/>
<circle cx="1375.35" cy="214.06" r="6.15"/>
<circle cx="1350.65" cy="248.98" r="6.15"/>
<circle cx="1363.00" cy="248.98" r="6.15"/>
<circle cx="1375.35" cy="248.98" r="6.15"/>
<circle cx="1363.00" cy="266.44" r="6.15"/>
<circle cx="1338.30" cy="283.89" r="6.15"/>
<circle cx="1350.65" cy="283.89" r="6.15"/>
<circle cx="1363.00" cy="283.89" r="6.15"/>
<circle cx="1375.35" cy="283.89" r="6.15"/>
<circle cx="1387.70" cy="283.89" r="6.15"/>
<circle cx="1356.83" cy="301.36" r="6.15"/>
<circle cx="1369.17" cy="301.36" r="6.15"/>
<circle cx="1350.65" cy="314.45" r="6.15"/>
<circle cx="1363.00" cy="314.45" r="6.15"/>
<circle cx="1375.35" cy="314.45" r="6.15"/>
<circle cx="1338.30" cy="327.55" r="6.15"/>
<circle cx="1350.65" cy="327.55" r="6.15"/>
<circle cx="1387.70" cy="327.55" r="6.15"/>
<circle cx="1363.00" cy="331.91" r="6.15"/>
<circle cx="1375.35" cy="331.91" r="6.15"/>
<circle cx="1332.12" cy="358.10" r="6.15"/>
<circle cx="1344.47" cy="358.10" r="6.15"/>
<circle cx="1356.83" cy="358.10" r="6.15"/>
<circle cx="1369.17" cy="358.10" r="6.15"/>
<circle cx="1381.53" cy="358.10" r="6.15"/>
<circle cx="1393.88" cy="358.10" r="6.15"/>
<circle cx="1363.00" cy="384.29" r="6.15"/>
<circle cx="1350.65" cy="388.65" r="6.15"/>
<circle cx="1375.35" cy="388.65" r="6.15"/>
<circle cx="1369.17" cy="401.75" r="6.15"/>
<circle cx="1356.83" cy="410.48" r="6.15"/>
<circle cx="1369.17" cy="419.21" r="6.15"/>
<circle cx="1356.83" cy="432.31" r="6.15"/>
<circle cx="1369.17" cy="432.31" r="6.15"/>
<circle cx="1363.00" cy="449.76" r="6.15"/>
<circle cx="1344.47" cy="467.23" r="6.15"/>
<circle cx="1356.83" cy="467.23" r="6.15"/>
<circle cx="1369.17" cy="467.23" r="6.15"/>
<circle cx="1381.53" cy="467.23" r="6.15"/>
<circle cx="1332.12" cy="480.32" r="6.15"/>
<circle cx="1344.47" cy="480.32" r="6.15"/>
<circle cx="1369.17" cy="480.32" r="6.15"/>
<circle cx="1393.88" cy="480.32" r="6.15"/>
<circle cx="1356.83" cy="489.05" r="6.15"/>
<circle cx="1381.53" cy="489.05" r="6.15"/>
<circle cx="1363.00" cy="502.15" r="6.15"/>
<circle cx="1363.00" cy="576.35" r="6.15"/>
<circle cx="1473.60" cy="139.85" r="6.15"/>
<circle cx="1473.60" cy="192.23" r="6.15"/>
<circle cx="1473.60" cy="248.98" r="6.15"/>
<circle cx="1462.12" cy="266.44" r="6.15"/>
<circle cx="1469.77" cy="266.44" r="6.15"/>
<circle cx="1485.07" cy="266.44" r="6.15"/>
<circle cx="1477.42" cy="270.80" r="6.15"/>
<circle cx="1443.00" cy="283.89" r="6.15"/>
<circle cx="1450.65" cy="283.89" r="6.15"/>
<circle cx="1458.30" cy="283.89" r="6.15"/>
<circle cx="1465.95" cy="283.89" r="6.15"/>
<circle cx="1473.60" cy="283.89" r="6.15"/>
<circle cx="1481.25" cy="283.89" r="6.15"/>
<circle cx="1488.90" cy="283.89" r="6.15"/>
<circle cx="1496.55" cy="283.89" r="6.15"/>
<circle cx="1504.20" cy="283.89" r="6.15"/>
<circle cx="1465.95" cy="314.45" r="6.15"/>
<circle cx="1473.60" cy="314.45" r="6.15"/>
<circle cx="1481.25" cy="314.45" r="6.15"/>
<circle cx="1469.77" cy="327.55" r="6.15"/>
<circle cx="1477.42" cy="327.55" r="6.15"/>
<circle cx="1450.65" cy="358.10" r="6.15"/>
<circle cx="1458.30" cy="358.10" r="6.15"/>
<circle cx="1465.95" cy="358.10" r="6.15"/>
<circle cx="1473.60" cy="358.10" r="6.15"/>
<circle cx="1481.25" cy="358.10" r="6.15"/>
<circle cx="1488.90" cy="358.10" r="6.15"/>
<circle cx="1496.55" cy="358.10" r="6.15"/>
<circle cx="1465.95" cy="384.29" r="6.15"/>
<circle cx="1481.25" cy="384.29" r="6.15"/>
<circle cx="1473.60" cy="388.65" r="6.15"/>
<circle cx="1458.30" cy="401.75" r="6.15"/>
<circle cx="1473.60" cy="401.75" r="6.15"/>
<circle cx="1488.90" cy="401.75" r="6.15"/>
<circle cx="1465.95" cy="410.48" r="6.15"/>
<circle cx="1481.25" cy="410.48" r="6.15"/>
<circle cx="1469.77" cy="432.31" r="6.15"/>
<circle cx="1477.42" cy="432.31" r="6.15"/>
<circle cx="1465.95" cy="449.76" r="6.15"/>
<circle cx="1473.60" cy="449.76" r="6.15"/>
<circle cx="1481.25" cy="449.76" r="6.15"/>
<circle cx="1473.60" cy="467.23" r="6.15"/>
<circle cx="1469.77" cy="480.32" r="6.15"/>
<circle cx="1485.07" cy="480.32" r="6.15"/>
<circle cx="1462.12" cy="489.05" r="6.15"/>
<circle cx="1477.42" cy="489.05" r="6.15"/>
<circle cx="1462.12" cy="576.35" r="6.15"/>
<circle cx="1469.77" cy="576.35" r="6.15"/>
<circle cx="1477.42" cy="576.35" r="6.15"/>
<circle cx="1485.07" cy="576.35" r="6.15"/>
<circle cx="1584.20" cy="214.06" r="6.15"/>
<circle cx="1584.20" cy="227.15" r="6.15"/>
<circle cx="1578.98" cy="248.98" r="6.15"/>
<circle cx="1589.42" cy="248.98" r="6.15"/>
<circle cx="1578.98" cy="266.44" r="6.15"/>
<circle cx="1589.42" cy="266.44" r="6.15"/>
<circle cx="1573.75" cy="283.89" r="6.15"/>
<circle cx="1584.20" cy="283.89" r="6.15"/>
<circle cx="1594.65" cy="283.89" r="6.15"/>
<circle cx="1568.53" cy="301.36" r="6.15"/>
<circle cx="1578.98" cy="301.36" r="6.15"/>
<circle cx="1589.42" cy="301.36" r="6.15"/>
<circle cx="1599.88" cy="301.36" r="6.15"/>
<circle cx="1578.98" cy="314.45" r="6.15"/>
<circle cx="1589.42" cy="314.45" r="6.15"/>
<circle cx="1552.85" cy="327.55" r="6.15"/>
<circle cx="1563.30" cy="327.55" r="6.15"/>
<circle cx="1573.75" cy="327.55" r="6.15"/>
<circle cx="1594.65" cy="327.55" r="6.15"/>
<circle cx="1584.20" cy="331.91" r="6.15"/>
<circle cx="1605.10" cy="331.91" r="6.15"/>
<circle cx="1615.55" cy="331.91" r="6.15"/>
<circle cx="1563.30" cy="358.10" r="6.15"/>
<circle cx="1573.75" cy="358.10" r="6.15"/>
<circle cx="1584.20" cy="358.10" r="6.15"/>
<circle cx="1594.65" cy="358.10" r="6.15"/>
<circle cx="1605.10" cy="358.10" r="6.15"/>
<circle cx="1594.65" cy="379.93" r="6.15"/>
<circle cx="1573.75" cy="384.29" r="6.15"/>
<circle cx="1584.20" cy="384.29" r="6.15"/>
<circle cx="1553.37" cy="401.75" r="6.15"/>
<circle cx="1563.30" cy="410.48" r="6.15"/>
<circle cx="1573.75" cy="410.48" r="6.15"/>
<circle cx="1584.20" cy="410.48" r="6.15"/>
<circle cx="1594.65" cy="410.48" r="6.15"/>
<circle cx="1605.10" cy="410.48" r="6.15"/>
<circle cx="1573.75" cy="432.31" r="6.15"/>
<circle cx="1584.20" cy="432.31" r="6.15"/>
<circle cx="1594.65" cy="432.31" r="6.15"/>
<circle cx="1584.20" cy="449.76" r="6.15"/>
<circle cx="1584.20" cy="467.23" r="6.15"/>
<circle cx="1584.20" cy="489.05" r="6.15"/>
<circle cx="1584.20" cy="515.24" r="6.15"/>
<circle cx="1578.98" cy="528.34" r="6.15"/>
<circle cx="1589.42" cy="528.34" r="6.15"/>
<circle cx="1578.98" cy="576.35" r="6.15"/>
<circle cx="1589.42" cy="576.35" r="6.15"/>
<circle cx="1695.20" cy="214.06" r="6.15"/>
<circle cx="1691.35" cy="248.98" r="6.15"/>
<circle cx="1699.05" cy="248.98" r="6.15"/>
<circle cx="1683.65" cy="266.44" r="6.15"/>
<circle cx="1691.35" cy="266.44" r="6.15"/>
<circle cx="1699.05" cy="266.44" r="6.15"/>
<circle cx="1706.75" cy="270.80" r="6.15"/>
<circle cx="1675.95" cy="283.89" r="6.15"/>
<circle cx="1683.65" cy="283.89" r="6.15"/>
<circle cx="1691.35" cy="283.89" r="6.15"/>
<circle cx="1699.05" cy="283.89" r="6.15"/>
<circle cx="1706.75" cy="283.89" r="6.15"/>
<circle cx="1714.45" cy="283.89" r="6.15"/>
<circle cx="1695.20" cy="301.36" r="6.15"/>
<circle cx="1664.40" cy="327.55" r="6.15"/>
<circle cx="1702.90" cy="327.55" r="6.15"/>
<circle cx="1710.60" cy="327.55" r="6.15"/>
<circle cx="1718.30" cy="327.55" r="6.15"/>
<circle cx="1672.10" cy="331.91" r="6.15"/>
<circle cx="1679.80" cy="331.91" r="6.15"/>
<circle cx="1687.50" cy="331.91" r="6.15"/>
<circle cx="1726.00" cy="331.91" r="6.15"/>
<circle cx="1695.20" cy="336.27" r="6.15"/>
<circle cx="1669.65" cy="358.10" r="6.15"/>
<circle cx="1676.95" cy="358.10" r="6.15"/>
<circle cx="1684.25" cy="358.10" r="6.15"/>
<circle cx="1691.55" cy="358.10" r="6.15"/>
<circle cx="1698.85" cy="358.10" r="6.15"/>
<circle cx="1706.15" cy="358.10" r="6.15"/>
<circle cx="1713.45" cy="358.10" r="6.15"/>
<circle cx="1720.75" cy="358.10" r="6.15"/>
<circle cx="1687.50" cy="388.65" r="6.15"/>
<circle cx="1695.20" cy="388.65" r="6.15"/>
<circle cx="1702.90" cy="388.65" r="6.15"/>
<circle cx="1702.90" cy="401.75" r="6.15"/>
<circle cx="1695.20" cy="410.48" r="6.15"/>
<circle cx="1687.50" cy="432.31" r="6.15"/>
<circle cx="1695.20" cy="432.31" r="6.15"/>
<circle cx="1702.90" cy="432.31" r="6.15"/>
<circle cx="1702.90" cy="445.40" r="6.15"/>
<circle cx="1687.50" cy="449.76" r="6.15"/>
<circle cx="1695.20" cy="449.76" r="6.15"/>
<circle cx="1679.80" cy="467.23" r="6.15"/>
<circle cx="1687.50" cy="467.23" r="6.15"/>
<circle cx="1695.20" cy="467.23" r="6.15"/>
<circle cx="1702.90" cy="467.23" r="6.15"/>
<circle cx="1710.60" cy="467.23" r="6.15"/>
<circle cx="1695.20" cy="502.15" r="6.15"/>
<circle cx="1695.20" cy="576.35" r="6.15"/>
</g>
</svg>
</body></html>
